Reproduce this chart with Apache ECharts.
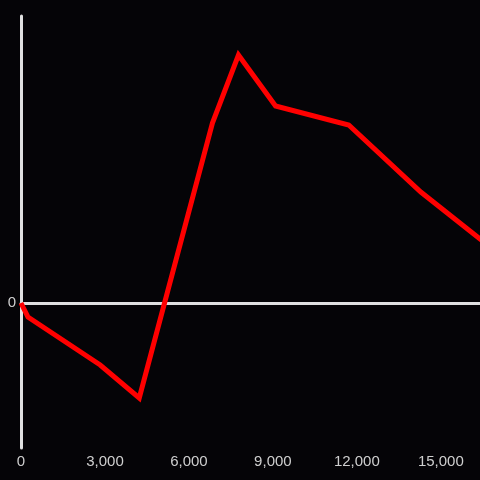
<!DOCTYPE html>
<html>
<head>
<meta charset="utf-8">
<script src="https://cdn.jsdelivr.net/npm/echarts@6/dist/echarts.min.js"></script>
<style>
  html, body { margin: 0; padding: 0; background: #050407; }
  #chart { width: 480px; height: 480px; }
</style>
</head>
<body>
<div id="chart"></div>
<script>
// values
const xValues = [0, 250, 2830, 4225, 6840, 7770, 9095, 11710, 14285, 16450];
const yValues = [0, -14, -62, -95, 180, 248, 197, 178, 111, 63];
const xTickLabels = [0, 3000, 6000, 9000, 12000, 15000];
const yTickLabels = [0];

const axisColor = '#e0e0e0';
const labelColor = '#cfcfcf';

const chart = echarts.init(document.getElementById('chart'));

const option = {
  backgroundColor: '#050407',
  animation: false,
  grid: { left: 21, right: 0, top: 16, bottom: 32 },
  xAxis: [
    {
      type: 'value',
      min: 0,
      max: 16400,
      axisLine: { show: false, onZero: false },
      axisTick: { show: false },
      splitLine: { show: false },
      axisLabel: {
        customValues: xTickLabels,
        color: labelColor,
        fontSize: 15,
        margin: 6,
        fontFamily: 'Liberation Sans, sans-serif'
      }
    },
    {
      // zero line
      type: 'value',
      position: 'top',
      min: 0,
      max: 16400,
      axisLine: { show: true, onZero: true, lineStyle: { color: axisColor, width: 3 } },
      axisTick: { show: false },
      axisLabel: { show: false },
      splitLine: { show: false }
    }
  ],
  yAxis: {
    type: 'value',
    min: -145,
    max: 287,
    axisLine: { show: true, onZero: false, lineStyle: { color: axisColor, width: 3 } },
    axisTick: { show: false },
    splitLine: { show: false },
    axisLabel: {
      customValues: yTickLabels,
      color: labelColor,
      fontSize: 15,
      margin: 5,
      fontFamily: 'Liberation Sans, sans-serif'
    }
  },
  series: [
    {
      type: 'line',
      xAxisIndex: 0,
      data: xValues.map((x, i) => [x, yValues[i]]),
      showSymbol: false,
      lineStyle: { color: '#ff0000', width: 5, join: 'miter' },
      z: 1
    }
  ]
};

chart.setOption(option);
</script>
</body>
</html>
